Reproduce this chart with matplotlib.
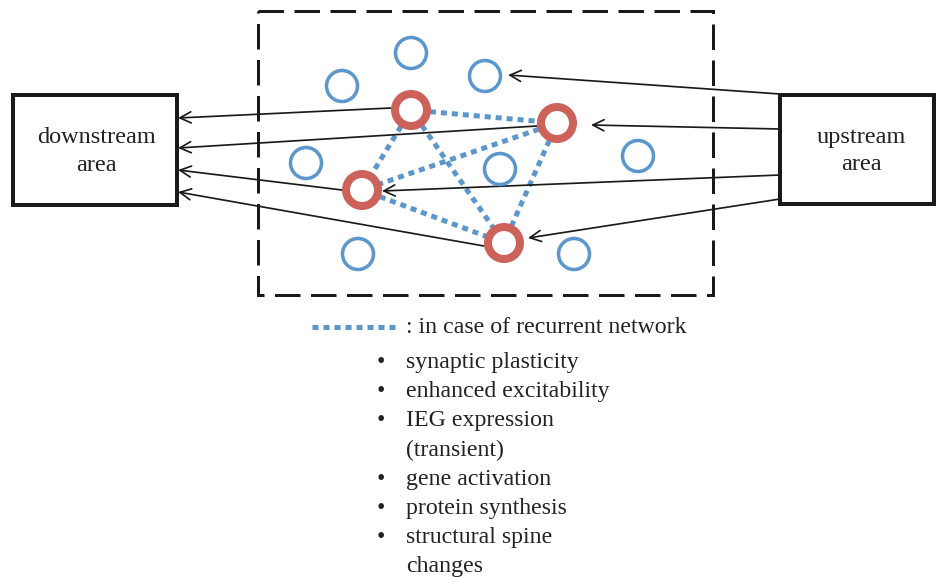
import matplotlib.pyplot as plt
from matplotlib.patches import Circle, Rectangle
import numpy as np

plt.rcParams['font.family'] = ['Liberation Serif', 'DejaVu Serif']

# neuronas (coordenadas en pixeles de la figura)
azul_x = [411, 342, 485, 306, 500, 638, 358, 574]
azul_y = [53, 86, 76, 163, 169, 156, 254, 254]
rojo_x = [411, 557, 362, 504]
rojo_y = [110, 123, 190, 243]

# conexiones recurrentes entre neuronas rojas
pares = [(0, 1), (0, 2), (0, 3), (1, 2), (1, 3), (2, 3)]

# flechas hacia la zona downstream (desde, hasta)
salida_desde = [(391, 108), (537, 126), (342, 190), (484, 246)]
salida_hasta = [(178, 118), (178, 148), (178, 170), (178, 192)]
# flechas desde la zona upstream
entrada_desde = [(780, 94), (780, 129), (780, 175), (780, 199)]
entrada_hasta = [(508, 75), (591, 125), (382, 191), (528, 238)]

items = ['synaptic plasticity', 'enhanced excitability', 'IEG expression',
         '(transient)', 'gene activation', 'protein synthesis',
         'structural spine', 'changes']
con_bullet = [True, True, True, False, True, True, True, False]

AZUL = '#5b96cc'
ROJO = '#cd625a'
NEGRO = '#1a1a1a'
TXT = '#222222'
px = 0.72  # pixeles -> puntos

fig = plt.figure(figsize=(9.36, 5.77), dpi=100)
ax = fig.add_axes([0, 0, 1, 1])
ax.set_xlim(0, 936)
ax.set_ylim(577, 0)
ax.axis('off')

# cajas
ax.add_patch(Rectangle((13, 95), 164, 110, fill=False, lw=4 * px, ec=NEGRO))
ax.add_patch(Rectangle((780, 95), 154, 109, fill=False, lw=4 * px, ec=NEGRO))
ax.add_patch(Rectangle((258, 11), 455, 284, fill=False, lw=3 * px, ec=NEGRO,
                       ls=(0, (8.5, 3.5))))

ax.text(96, 143, 'downstream', ha='center', va='baseline', fontsize=17.5, color=TXT)
ax.text(96, 171, 'area', ha='center', va='baseline', fontsize=17.5, color=TXT)
ax.text(861, 143, 'upstream', ha='center', va='baseline', fontsize=17.5, color=TXT)
ax.text(861, 170, 'area', ha='center', va='baseline', fontsize=17.5, color=TXT)

# conexiones punteadas
for i, j in pares:
    p = np.array([rojo_x[i], rojo_y[i]], float)
    q = np.array([rojo_x[j], rojo_y[j]], float)
    d = (q - p) / np.linalg.norm(q - p)
    a = p + d * 19
    b = q - d * 19
    ax.plot([a[0], b[0]], [a[1], b[1]], color=AZUL, lw=5 * px,
            ls=(0, (1.2, 1.0)), solid_capstyle='butt', dash_capstyle='butt', zorder=2)

# flechas
for (x0, y0), (x1, y1) in zip(salida_desde + entrada_desde, salida_hasta + entrada_hasta):
    ax.annotate('', xy=(x1, y1), xytext=(x0, y0),
                arrowprops=dict(arrowstyle='->,head_length=0.8,head_width=0.4',
                                lw=1.7 * px, color=NEGRO, shrinkA=0, shrinkB=0),
                zorder=3)

# neuronas
for x, y in zip(azul_x, azul_y):
    ax.add_patch(Circle((x, y), 15.5, fill=False, lw=3.5 * px, ec=AZUL, zorder=4))
for x, y in zip(rojo_x, rojo_y):
    ax.add_patch(Circle((x, y), 16, fill=False, lw=8 * px, ec=ROJO, zorder=4))

# leyenda
ax.plot([312, 398], [327, 327], color=AZUL, lw=5 * px, ls=(0, (1.2, 1.0)),
        dash_capstyle='butt')
ax.text(406, 333, ': in case of recurrent network', ha='left', va='baseline',
        fontsize=17.2, color=TXT)

y = 368
for t, b in zip(items, con_bullet):
    if b:
        ax.text(381, y, '\u2022', ha='center', va='baseline', fontsize=17, color=TXT)
    ax.text(406, y, t, ha='left', va='baseline', fontsize=17.2, color=TXT)
    y += 29.2

fig.savefig('out.png', dpi=100)
